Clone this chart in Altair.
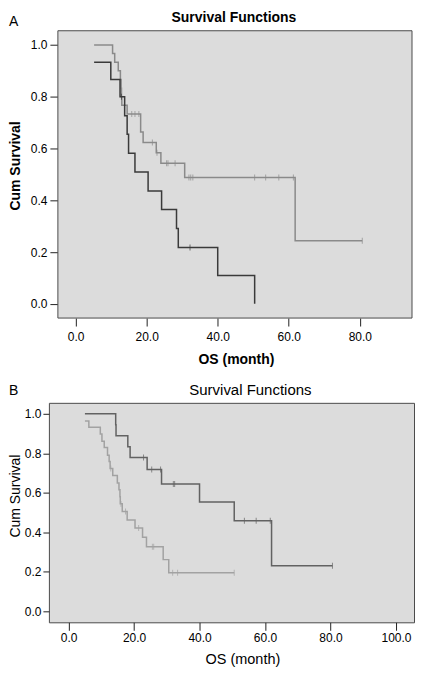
import altair as alt
import pandas as pd

FONT = "Liberation Sans"

# ---------------- Panel A data ----------------
A_GRAY_T = [5.2, 10.4, 11.0, 12.0, 12.6, 12.8, 12.9, 13.0, 14.5, 18.3, 19.0, 22.7, 24.0, 30.7, 61.8, 80.7]
A_GRAY_S = [1.0, 0.967, 0.933, 0.900, 0.867, 0.833, 0.800, 0.767, 0.733, 0.664, 0.623, 0.584, 0.543, 0.488, 0.244, 0.244]
A_GRAY_CENS_T = [15.8, 16.7, 17.8, 21.6, 22.9, 25.6, 26.0, 28.0, 31.9, 32.4, 33.0, 50.4, 53.5, 57.2, 61.3, 80.7]
A_GRAY_CENS_S = [0.733, 0.733, 0.733, 0.623, 0.584, 0.543, 0.543, 0.543, 0.488, 0.488, 0.488, 0.488, 0.488, 0.488, 0.488, 0.244]

A_DARK_T = [5.2, 9.9, 12.5, 13.8, 14.5, 14.9, 16.7, 20.4, 24.2, 28.4, 28.9, 40.0, 50.4]
A_DARK_S = [0.933, 0.867, 0.800, 0.727, 0.655, 0.582, 0.509, 0.436, 0.364, 0.291, 0.218, 0.109, 0.0]
A_DARK_CENS_T = [12.9, 32.2]
A_DARK_CENS_S = [0.800, 0.218]

# ---------------- Panel B data ----------------
B_DARK_T = [5.0, 14.4, 14.5, 18.1, 18.8, 24.0, 28.4, 40.0, 50.6, 62.0, 80.6]
B_DARK_S = [1.0, 0.944, 0.889, 0.833, 0.778, 0.718, 0.645, 0.554, 0.459, 0.231, 0.231]
B_DARK_CENS_T = [22.9, 25.4, 28.1, 32.0, 32.4, 53.7, 57.3, 61.6, 80.6]
B_DARK_CENS_S = [0.778, 0.718, 0.718, 0.645, 0.645, 0.459, 0.459, 0.459, 0.231]

B_LIGHT_T = [5.0, 6.2, 9.7, 10.2, 10.9, 11.9, 12.4, 12.7, 13.5, 14.9, 15.4, 15.7, 15.8, 16.4, 17.9,
             20.3, 22.6, 23.8, 28.9, 30.6, 50.6]
B_LIGHT_S = [0.963, 0.932, 0.897, 0.861, 0.829, 0.790, 0.758, 0.723, 0.687, 0.650, 0.615, 0.580, 0.544,
             0.505, 0.462, 0.422, 0.375, 0.327, 0.262, 0.196, 0.196]
B_LIGHT_CENS_T = [12.9, 16.0, 17.4, 21.4, 25.6, 26.0, 31.8, 33.3, 50.6]
B_LIGHT_CENS_S = [0.723, 0.544, 0.505, 0.422, 0.327, 0.327, 0.196, 0.196, 0.196]

A_X_TICKS = [0, 20, 40, 60, 80]
B_X_TICKS = [0, 20, 40, 60, 80, 100]
Y_TICKS = [0.0, 0.2, 0.4, 0.6, 0.8, 1.0]

# axis ranges of the two plot frames
A_X_RANGE = [-5, 94.7]
B_X_RANGE = [-6, 105.5]
Y_RANGE = [-0.055, 1.055]

TITLE = "Survival Functions"
X_TITLE = "OS (month)"
Y_TITLE = "Cum Survival"

A_GRAY_COLOR = "#8a8a8a"
A_DARK_COLOR = "#3a3a3a"
B_DARK_COLOR = "#626262"
B_LIGHT_COLOR = "#a2a2a2"
BG = "#dcdcdc"
FRAME = "#4a4a4a"

VIEW_W = 366          # width of both views
A_SHIFT = 9           # panel A frame starts this many px right of panel B's
A_RIGHT_GAP = 2       # panel A frame ends this many px left of panel B's
A_FRAME_W = VIEW_W - A_SHIFT - A_RIGHT_GAP
A_H = 288
B_H = 220

# x domain of A's (wider) view so that its frame spans A_X_RANGE
_pxm = A_FRAME_W / (A_X_RANGE[1] - A_X_RANGE[0])
A_VIEW_DOMAIN = [A_X_RANGE[0] - A_SHIFT / _pxm, A_X_RANGE[1] + A_RIGHT_GAP / _pxm]


def df(t, s):
    return pd.DataFrame({"t": t, "s": s})


def step(data, color, x, y):
    return alt.Chart(data).mark_line(interpolate="step-after", color=color, strokeWidth=1.5).encode(x=x, y=y)


def cens(data, color, x, y):
    return alt.Chart(data).mark_tick(orient="vertical", size=6, thickness=1, color=color).encode(x=x, y=y)


def label(txt, px, py, size, weight="normal", align="left"):
    return alt.Chart(pd.DataFrame({"lab": [txt]})).mark_text(
        align=align, baseline="alphabetic", fontSize=size, fontWeight=weight, color="#000"
    ).encode(x=alt.value(px), y=alt.value(py), text="lab:N")


# ---------------- Panel A ----------------
scAx = alt.Scale(domain=A_VIEW_DOMAIN, nice=False, zero=False)
scY = alt.Scale(domain=Y_RANGE, nice=False, zero=False)
axAx = alt.Axis(values=A_X_TICKS, format=".1f", title=X_TITLE, domain=False, grid=False,
                tickSize=8, tickColor="#222", labelPadding=6, labelFontSize=12,
                titleFontSize=14, titleFontWeight="bold", titleY=46,
                titleX=A_SHIFT + A_FRAME_W / 2 + 1, titleAlign="center",
                titleBaseline="alphabetic", labelFlush=False)
axAy = alt.Axis(values=Y_TICKS, format=".1f", title=Y_TITLE, domain=False, grid=False,
                offset=-A_SHIFT,
                tickSize=8, tickColor="#222", labelPadding=3, labelFontSize=12,
                titleFontSize=14, titleFontWeight="bold", titleX=-38, titleY=135,
                titleAngle=270, titleAlign="center", titleBaseline="alphabetic")
xA = alt.X("t:Q", scale=scAx, axis=axAx)
yA = alt.Y("s:Q", scale=scY, axis=axAy)

frameA = alt.Chart(pd.DataFrame({"x0": [A_X_RANGE[0]], "x1": [A_X_RANGE[1]],
                                 "y0": [Y_RANGE[0]], "y1": [Y_RANGE[1]]})).mark_rect(
    fill=BG, stroke=FRAME, strokeWidth=1
).encode(x=alt.X("x0:Q", scale=scAx, axis=axAx), x2="x1:Q",
         y=alt.Y("y0:Q", scale=scY, axis=axAy), y2="y1:Q")

chartA = alt.layer(
    frameA,
    step(df(A_GRAY_T, A_GRAY_S), A_GRAY_COLOR, xA, yA),
    step(df(A_DARK_T, A_DARK_S), A_DARK_COLOR, xA, yA),
    cens(df(A_GRAY_CENS_T, A_GRAY_CENS_S), A_GRAY_COLOR, xA, yA),
    cens(df(A_DARK_CENS_T, A_DARK_CENS_S), A_DARK_COLOR, xA, yA),
    label("A", A_SHIFT - 49, -5, 14),
    label(TITLE, A_SHIFT + A_FRAME_W / 2 - 1, -9, 14, "bold", "center"),
).properties(
    width=VIEW_W, height=A_H,
    view=alt.ViewBackground(strokeOpacity=0, fillOpacity=0),
)

# ---------------- Panel B ----------------
xB = alt.X("t:Q", scale=alt.Scale(domain=B_X_RANGE, nice=False, zero=False),
           axis=alt.Axis(values=B_X_TICKS, format=".1f", title=X_TITLE, domain=False, grid=False,
                         tickSize=8, tickColor="#222", labelPadding=2, labelFontSize=12,
                         titleFontSize=14.5, titleFontWeight="normal", titleY=41,
                         titleX=194, titleAlign="center",
                         titleBaseline="alphabetic", labelFlush=False))
yB = alt.Y("s:Q", scale=scY,
           axis=alt.Axis(values=Y_TICKS, format=".1f", title=Y_TITLE, domain=False, grid=False,
                         tickSize=6, tickColor="#222", labelPadding=2, labelFontSize=12,
                         titleFontSize=14, titleFontWeight="normal", titleX=-29, titleY=93,
                         titleAngle=270, titleAlign="center", titleBaseline="alphabetic"))

chartB = alt.layer(
    step(df(B_LIGHT_T, B_LIGHT_S), B_LIGHT_COLOR, xB, yB),
    step(df(B_DARK_T, B_DARK_S), B_DARK_COLOR, xB, yB),
    cens(df(B_LIGHT_CENS_T, B_LIGHT_CENS_S), B_LIGHT_COLOR, xB, yB),
    cens(df(B_DARK_CENS_T, B_DARK_CENS_S), B_DARK_COLOR, xB, yB),
    label("B", -40, -8, 14),
    label(TITLE, VIEW_W / 2 + 19, -8, 15, "normal", "center"),
).properties(
    width=VIEW_W, height=B_H,
    view=alt.ViewBackground(fill=BG, stroke=FRAME, strokeWidth=1),
)

chart = alt.vconcat(chartA, chartB, spacing=15).properties(
    padding={"top": 2, "left": 0, "right": 0, "bottom": 0}
).configure(font=FONT)

chart.save("out.html", embed_options={"renderer": "svg", "actions": False})
